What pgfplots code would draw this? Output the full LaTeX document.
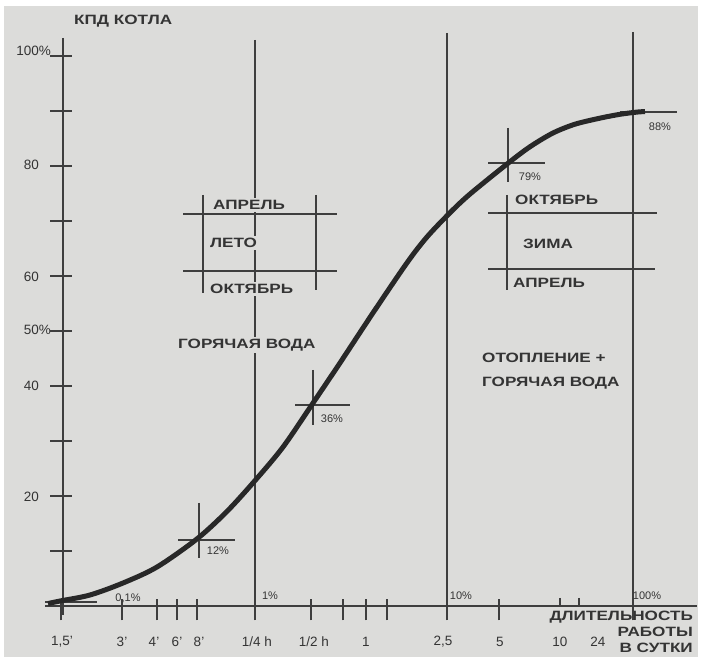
\documentclass[border=0pt]{standalone}
\usepackage{fontspec}
\setmainfont{Liberation Sans}
\newfontfamily\bsf[FakeStretch=1.27]{Liberation Sans Bold}
\usepackage{pgfplots}
\pgfplotsset{compat=1.18}
\definecolor{bg}{RGB}{220,220,218}
\definecolor{ink}{RGB}{52,52,52}
\definecolor{lin}{RGB}{62,62,62}
\definecolor{crv}{RGB}{40,40,40}
\newcommand\bl{\bsf\fontsize{13.5bp}{15bp}\selectfont}
\newcommand\rl{\fontsize{13.5bp}{15bp}\selectfont}
\newcommand\smp{\fontsize{11bp}{12bp}\selectfont}
\begin{document}
\begin{tikzpicture}
\path[use as bounding box] (0,0) rectangle (701bp,663bp);
\fill[white] (0,0) rectangle (701bp,663bp);
\begin{scope}[x=1bp,y=-1bp,yshift=663bp]
\fill[bg] (4,6) rectangle (698,657);
\begin{scope}[draw=lin, line width=1.6bp]
\draw (63,38) -- (63,615);
\draw (45,606) -- (697,606);
\draw (45,602) -- (97,602);
\draw (255,40) -- (255,606);
\draw (447,33) -- (447,606);
\draw (633,32) -- (633,606);
\draw (560,598) -- (560,606); \draw (579,598) -- (579,606);
\draw (183,214) -- (337,214); \draw (183,271) -- (337,271);
\draw (203,195) -- (203,293); \draw (316,195) -- (316,290);
\draw (488,213) -- (657,213); \draw (488,269) -- (655,269);
\draw (507,195) -- (507,290);
\draw (199,503) -- (199,558); \draw (178,540) -- (235,540);
\draw (313,370) -- (313,425); \draw (295,405) -- (350,405);
\draw (508,128) -- (508,182); \draw (488,163) -- (545,163);
\draw (620,112) -- (677,112);
\end{scope}
\begin{scope}[every node/.style={text=ink, inner sep=2bp}]
\node[anchor=west] at (72,21) {\bl КПД КОТЛА};
\node[anchor=west, fill=bg] at (211,205) {\bl АПРЕЛЬ};
\node[anchor=west, fill=bg] at (208,243) {\bl ЛЕТО};
\node[anchor=west, fill=bg] at (208,289) {\bl ОКТЯБРЬ};
\node[anchor=west, fill=bg] at (176,345) {\bl ГОРЯЧАЯ ВОДА};
\node[anchor=west] at (513,200) {\bl ОКТЯБРЬ};
\node[anchor=west] at (521,244) {\bl ЗИМА};
\node[anchor=west] at (511,283) {\bl АПРЕЛЬ};
\node[anchor=west] at (480,358) {\bl ОТОПЛЕНИЕ +};
\node[anchor=west] at (480,383) {\bl ГОРЯЧАЯ ВОДА};
\node[anchor=east] at (695,617) {\bl ДЛИТЕЛЬНОСТЬ};
\node[anchor=east] at (695,632) {\bl РАБОТЫ};
\node[anchor=east] at (695,648) {\bl В СУТКИ};
\node[anchor=east] at (41,51) {\rl 100\rlap{\%}};
\node[anchor=east] at (41,165) {\rl 80};
\node[anchor=east] at (41,277) {\rl 60};
\node[anchor=east] at (41,330) {\rl 50\rlap{\%}};
\node[anchor=east] at (41,386) {\rl 40};
\node[anchor=east] at (41,497) {\rl 20};
\node at (62,642) {\rl 1,5'};
\node at (122,642) {\rl 3'};
\node at (154,642) {\rl 4'};
\node at (177,642) {\rl 6'};
\node at (199,642) {\rl 8'};
\node at (257,642) {\rl 1/4 h};
\node at (314,642) {\rl 1/2 h};
\node at (366,642) {\rl 1};
\node at (443,642) {\rl 2,5};
\node at (500,642) {\rl 5};
\node at (560,642) {\rl 10};
\node at (598,642) {\rl 24};
\node at (128,598) {\smp 0,1\%};
\node at (270,596) {\smp 1\%};
\node at (461,596) {\smp 10\%};
\node at (647,596) {\smp 100\%};
\node at (218,551) {\smp 12\%};
\node at (332,419) {\smp 36\%};
\node at (530,177) {\smp 79\%};
\node at (660,127) {\smp 88\%};
\end{scope}
\end{scope}
\begin{axis}[at={(0,0)}, anchor=south west, width=701bp, height=663bp,
  scale only axis, xmin=-63, xmax=638, ymin=-10.3636, ymax=110.1818,
  axis lines=middle, axis line style={draw=none},
  xtick={-2,59,94,114,134,192,248,280,303,324,384,436,570},
  ytick={10,20,...,100}, xticklabels={}, yticklabels={},
  tick label style={text opacity=0},
  tick align=center, major tick length=21bp,
  tick style={draw=lin, line width=1.6bp},
  xtick style={yshift=-4bp}, ytick style={xshift=-2bp},
  clip=false]
\addplot[crv, line width=5bp, smooth, tension=0.5] coordinates {
(-15,0.45) (-3,0.91) (27,2.0) (60,4.18) (94,7.09) (134,12.2) (164,17.2)
(192,22.8) (220,28.9) (250,36.9) (277,44.2) (310,53.3) (344,62.4)
(364,67.1) (387,71.5) (407,74.9) (445,80.5) (467,83.5) (490,86.0)
(512,87.6) (537,88.7) (557,89.4) (574,89.8) (582,89.9)};
\end{axis}
\end{tikzpicture}
\end{document}
